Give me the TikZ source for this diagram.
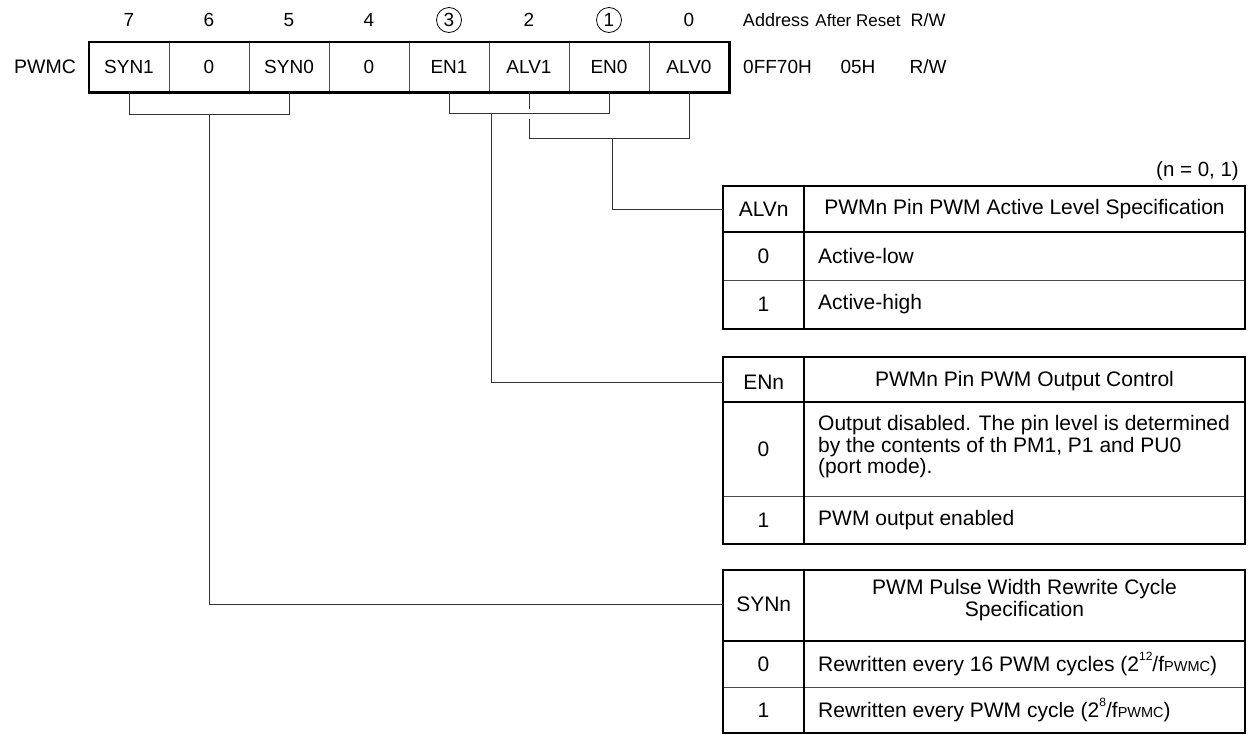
\documentclass[tikz,border=0pt]{standalone}
\usepackage{fontspec}
\setmainfont{Liberation Sans}
\newcommand{\fs}{\fontsize{19}{20.5}\selectfont}
\newcommand{\ft}{\fontsize{21}{21.5}\selectfont}
\newcommand{\supr}[1]{\raisebox{0.55em}{\fontsize{12}{12}\selectfont #1}}
\newcommand{\smc}[1]{{\fontsize{14.5}{14.5}\selectfont #1}}
\begin{document}
\begin{tikzpicture}[x=1pt,y=-1pt,
  lbl/.style={font=\fs, inner sep=0pt},
  tlbl/.style={font=\ft, inner sep=0pt},
  reg/.style={draw=black!70, line width=0.8pt, minimum width=80pt, minimum height=50pt, inner sep=0pt, font=\fs},
  frame/.style={line width=2.2pt, draw=black},
  grid/.style={line width=0.8pt, draw=black!70},
  conn/.style={line width=0.8pt, draw=black!80},
  hcell/.style={inner sep=0pt, font=\ft, anchor=north west, minimum width=81pt},
  desc/.style={inner sep=0pt, font=\ft, anchor=west, align=left},
  circ/.style={circle, draw, line width=0.8pt, minimum size=25pt, inner sep=0pt, font=\fs}]
\useasboundingbox (0,0) rectangle (1249,734);

% bit numbers
\node[lbl] (n7) at (129,20) {7};
\node[lbl] (n6) at (209,20) {6};
\node[lbl] (n5) at (289,20) {5};
\node[lbl] (n4) at (369,20) {4};
\node[circ] (n3) at (449,20) {3};
\node[lbl] (n2) at (529,20) {2};
\node[circ] (n1) at (609,20) {1};
\node[lbl] (n0) at (689,20) {0};
\node[lbl, font=\fontsize{18}{18}\selectfont] (haddr) at (776,20) {Address};
\node[lbl, font=\fontsize{17}{17}\selectfont] (hrst) at (858,20) {After Reset};
\node[lbl, font=\fontsize{18}{18}\selectfont] (hrw) at (928,20) {R/W};

% register
\node[lbl, font=\fontsize{19.5}{20}\selectfont] (pwmc) at (45,67) {PWMC};
\node[reg] (b7) at (129,67) {SYN1};
\node[reg] (b6) at (209,67) {0};
\node[reg] (b5) at (289,67) {SYN0};
\node[reg] (b4) at (369,67) {0};
\node[reg] (b3) at (449,67) {EN1};
\node[reg] (b2) at (529,67) {ALV1};
\node[reg] (b1) at (609,67) {EN0};
\node[reg] (b0) at (689,67) {ALV0};
\draw[frame] (b7.north west) rectangle (b0.south east);
\node[lbl, anchor=west] (addr) at (743,67) {0FF70H};
\node[lbl] (rst) at (858,67) {05H};
\node[lbl] (rw) at (928,67) {R/W};

% ALVn table
\node[tlbl, font=\fontsize{20.5}{20}\selectfont, anchor=east] (nnote) at (1239,171) {(n = 0, 1)};
\node[hcell, minimum height=46pt] (alvH) at (723,186) {ALVn};
\node[tlbl] (alvT) at (1024.5,209) {PWMn Pin PWM Active Level Specification};
\node[tlbl] (alv0) at (763.5,256) {0};
\node[desc] (alv0d) at (818,256) {Active-low};
\node[tlbl] (alv1) at (763.5,304.5) {1};
\node[desc] (alv1d) at (818,304.5) {Active-high};
\draw[grid] (723,280) -- (1245,280);
\draw[frame] (723,232) -- (1245,232);
\draw[frame] (804,186) -- (804,329);
\draw[frame] (723,186) rectangle (1245,329);

% ENn table
\node[hcell, minimum height=50pt] (enH) at (723,357) {ENn};
\node[tlbl] (enT) at (1024.5,381) {PWMn Pin PWM Output Control};
\node[tlbl] (en0) at (763.5,449) {0};
\node[desc] (en0d) at (818,447) {Output disabled. The pin level is determined\\by the contents of th PM1, P1 and PU0\\(port mode).};
\node[tlbl] (en1) at (763.5,520) {1};
\node[desc] (en1d) at (818,520) {PWM output enabled};
\draw[grid] (723,496) -- (1245,496);
\draw[frame] (723,402) -- (1245,402);
\draw[frame] (804,357) -- (804,544);
\draw[frame] (723,357) rectangle (1245,544);

% SYNn table
\node[hcell, minimum height=68pt] (synH) at (723,570) {SYNn};
\node[tlbl, font=\fontsize{21}{22}\selectfont, align=center] (synT) at (1024.5,600) {PWM Pulse Width Rewrite Cycle\\Specification};
\node[tlbl] (syn0) at (763.5,664) {0};
\node[desc] (syn0d) at (818,664) {Rewritten every 16 PWM cycles (2\supr{12}/f\smc{PWMC})};
\node[tlbl] (syn1) at (763.5,710) {1};
\node[desc] (syn1d) at (818,710) {Rewritten every PWM cycle (2\supr{8}/f\smc{PWMC})};
\draw[grid] (723,687) -- (1245,687);
\draw[frame] (723,641) -- (1245,641);
\draw[frame] (804,570) -- (804,733);
\draw[frame] (723,570) rectangle (1245,733);

% connectors
\coordinate (synmid) at (209,114);
\coordinate (enmid) at (491,113);
\coordinate (alvgap) at (529,119);
\coordinate (alvmid) at (612,138);
\draw[conn] (b7.south) -- ++(0,22) -| (b5.south);
\draw[conn] (synmid) |- (synH.west);
\draw[conn] (b3.south) -- ++(0,21) -| (b1.south);
\draw[conn] (enmid) |- (enH.west);
\draw[conn] (b2.south) -- ++(0,17);
\draw[conn] (alvgap) -- ++(0,19) -| (b0.south);
\draw[conn] (alvmid) |- (alvH.west);
\end{tikzpicture}
\end{document}
